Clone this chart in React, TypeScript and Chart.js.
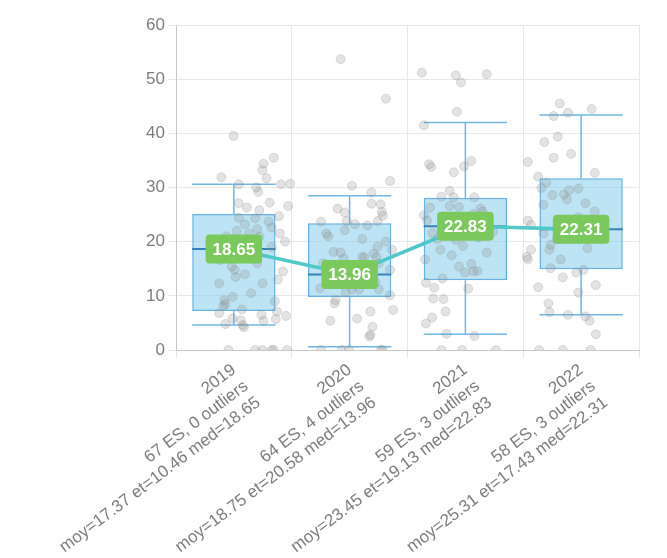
import { useEffect, useRef } from 'react';
import { Chart, registerables } from 'chart.js';

Chart.register(...registerables);

const years = ['2019', '2020', '2021', '2022'];
const esCounts = [67, 64, 59, 58];
const outlierCounts = [0, 4, 3, 3];
const means = ['17.37', '18.75', '23.45', '25.31'];
const stdDevs = ['10.46', '20.58', '19.13', '17.43'];
const medians = [18.65, 13.96, 22.83, 22.31];
const q1s = [7.2, 9.8, 12.9, 14.9];
const q3s = [25.1, 23.4, 28.1, 31.7];
const whiskerLows = [4.6, 0.6, 2.9, 6.5];
const whiskerHighs = [30.6, 28.5, 42.0, 43.4];

const yMin = 0;
const yMax = 60;
const yStep = 10;

// jitter (fraction of category width) and value of each individual point
const jitter2019 = [-0.19, 0.2, 0.1, 0.09, 0.13, -0.31, -0.14, 0.03, 0.27, 0.36, 0.05, 0.16, -0.14, -0.06, 0.34, 0.06, 0.02, -0.14, 0.25, 0.15, 0.18, -0.08, 0.04, 0.26, -0.26, -0.04, 0.06, -0.25, 0.31, -0.28, -0.32, -0.21, -0.18, -0.08, -0.17, 0.29, -0.33, 0.09, -0.2, -0.28, -0.29, -0.11, -0.33, 0.08, 0.23, 0.32, -0.2, -0.12, -0.27, 0.1, 0.22, -0.1, -0.09, -0.24, 0.02, 0.09, 0.18, 0.2, 0.33, -0.27, -0.05, 0.18, -0.16, 0.24, -0.02, 0.21, 0.04];
const values2019 = [39.5, 35.5, 34.4, 33.2, 31.7, 31.9, 30.6, 30.0, 30.6, 30.7, 29.2, 27.2, 27.1, 26.3, 26.6, 25.8, 24.3, 24.4, 24.7, 23.7, 22.6, 23.2, 22.3, 21.5, 21.0, 21.5, 20.9, 19.8, 20.0, 19.1, 16.6, 15.4, 14.8, 14.0, 13.5, 14.5, 12.3, 12.3, 9.8, 9.2, 8.1, 7.5, 6.8, 6.5, 7.1, 6.3, 5.8, 5.5, 4.8, 5.4, 5.7, 4.6, 4.2, 0, 0, 0, 0, 0, 0, 8.5, 17.9, 19.0, 22.0, 13.0, 10.5, 9.0, 16.0];

const jitter2020 = [-0.15, 0.29, 0.33, -0.04, 0.15, 0.15, 0.24, -0.18, -0.11, 0.25, 0.26, -0.34, -0.09, -0.01, 0.11, 0.21, -0.29, -0.27, -0.11, 0.21, 0.35, -0.22, -0.15, -0.12, 0.06, 0.17, 0.2, 0.22, 0.33, -0.26, -0.35, -0.1, -0.04, 0.03, 0.22, 0.33, -0.2, -0.21, 0.36, 0.14, -0.25, 0.01, 0.16, 0.14, 0.13, -0.34, -0.14, -0.07, 0.24, 0.26, 0.08, -0.17, 0.09, -0.04, 0.19, -0.1, 0.06, 0.29, -0.32];
const values2020 = [53.7, 46.4, 31.2, 30.3, 29.1, 27.0, 26.9, 26.1, 25.4, 25.5, 24.8, 23.7, 23.8, 23.2, 23.0, 23.8, 21.5, 21.0, 22.1, 19.1, 18.5, 18.1, 18.0, 16.9, 17.2, 17.8, 17.2, 16.0, 14.8, 12.4, 11.4, 10.6, 11.2, 11.2, 11.2, 10.1, 9.2, 8.6, 7.4, 7.1, 5.4, 5.8, 4.3, 2.8, 2.5, 0, 0, 0, 0, 0, 17.1, 14.5, 13.0, 15.5, 12.5, 13.2, 20.5, 20.0, 16.0];

const jitter2021 = [-0.36, -0.03, 0.02, 0.27, -0.02, -0.34, -0.29, -0.27, 0.05, 0.12, -0.05, -0.09, -0.17, -0.05, 0.15, -0.28, -0.09, 0.0, 0.21, 0.23, -0.34, -0.31, 0.14, -0.26, -0.03, 0.04, 0.33, -0.33, 0.0, 0.12, 0.06, 0.14, 0.18, -0.16, -0.32, -0.24, 0.09, -0.25, -0.15, -0.13, -0.26, -0.32, -0.12, 0.15, -0.17, 0.03, 0.36, -0.14, 0.1, -0.18, 0.27, -0.07, -0.21, 0.19];
const values2021 = [51.2, 50.7, 49.4, 50.9, 44.0, 41.5, 34.3, 33.8, 33.9, 34.9, 32.8, 29.4, 28.3, 28.2, 28.2, 26.3, 26.6, 26.4, 26.1, 25.6, 24.9, 23.9, 25.1, 21.6, 20.3, 19.2, 21.8, 16.7, 15.4, 15.9, 14.3, 14.5, 14.6, 13.2, 12.4, 11.5, 11.3, 9.5, 9.4, 7.1, 6.0, 4.9, 3.0, 2.6, 0, 0, 0, 22.0, 23.5, 18.5, 18.0, 17.5, 20.5, 20.8];

const jitter2022 = [-0.02, 0.29, -0.08, 0.06, -0.04, -0.17, 0.09, -0.08, -0.33, 0.32, -0.23, -0.15, -0.2, 0.07, 0.16, 0.02, 0.05, -0.09, 0.23, -0.18, 0.32, -0.33, -0.3, 0.34, -0.11, -0.12, -0.3, 0.25, -0.34, -0.33, -0.01, -0.11, 0.14, 0.21, 0.01, -0.23, 0.33, 0.16, -0.13, -0.12, 0.06, 0.23, 0.27, 0.33, -0.22, 0.01, 0.28, -0.18, 0.08, -0.05, 0.32, 0.16];
const values2022 = [45.5, 44.5, 43.2, 43.8, 39.4, 38.4, 36.2, 35.5, 34.7, 32.7, 32.0, 30.9, 29.9, 29.5, 29.8, 28.7, 27.8, 28.6, 27.1, 26.8, 25.6, 23.9, 23.1, 21.6, 19.4, 18.5, 18.5, 18.8, 17.2, 16.7, 16.7, 15.1, 14.3, 14.8, 13.4, 11.6, 12.0, 10.6, 8.6, 7.0, 6.5, 6.2, 5.4, 2.9, 0, 0, 0, 21.5, 23.5, 20.5, 22.1, 24.5];

const jitters = [jitter2019, jitter2020, jitter2021, jitter2022];
const valuesByYear = [values2019, values2020, values2021, values2022];

const FONT = '"Liberation Sans", Arial, Helvetica, sans-serif';
const WHISKER_COLOR = 'rgba(86,170,225,0.85)';
const MEDIAN_COLOR = 'rgba(40,120,180,0.9)';
const LABEL_BG = '#7bc95c';
const GRID = '#e8e8e8';

const boxPlugin = {
  id: 'boxWhiskers',
  afterDatasetDraw(chart: any, args: any) {
    if (args.index !== 0) return;
    const { ctx } = chart;
    const ys = chart.scales.y;
    const meta = chart.getDatasetMeta(0);
    meta.data.forEach((bar: any, i: number) => {
      const { x, width } = bar.getProps(['x', 'width'], true);
      const half = width / 2;
      const pHi = ys.getPixelForValue(whiskerHighs[i]);
      const pLo = ys.getPixelForValue(whiskerLows[i]);
      const pQ1 = ys.getPixelForValue(q1s[i]);
      const pQ3 = ys.getPixelForValue(q3s[i]);
      const pMed = ys.getPixelForValue(medians[i]);
      ctx.save();
      ctx.strokeStyle = WHISKER_COLOR;
      ctx.lineWidth = 1.5;
      ctx.beginPath();
      ctx.moveTo(x, pQ3);
      ctx.lineTo(x, pHi);
      ctx.moveTo(x, pQ1);
      ctx.lineTo(x, pLo);
      ctx.moveTo(x - half, pHi);
      ctx.lineTo(x + half, pHi);
      ctx.moveTo(x - half, pLo);
      ctx.lineTo(x + half, pLo);
      ctx.stroke();
      ctx.strokeStyle = MEDIAN_COLOR;
      ctx.lineWidth = 2;
      ctx.beginPath();
      ctx.moveTo(x - half, pMed);
      ctx.lineTo(x + half, pMed);
      ctx.stroke();
      ctx.restore();
    });
  },
};

const labelPlugin = {
  id: 'medianLabels',
  afterDatasetsDraw(chart: any) {
    const { ctx } = chart;
    const meta = chart.getDatasetMeta(2);
    ctx.save();
    ctx.font = `bold 17px ${FONT}`;
    ctx.textAlign = 'center';
    ctx.textBaseline = 'middle';
    meta.data.forEach((pt: any, i: number) => {
      const { x, y } = pt.getProps(['x', 'y'], true);
      const text = medians[i].toFixed(2);
      const w = ctx.measureText(text).width + 14;
      const h = 29;
      ctx.fillStyle = LABEL_BG;
      ctx.beginPath();
      ctx.roundRect(x - w / 2, y - h / 2, w, h, 4);
      ctx.fill();
      ctx.fillStyle = '#ffffff';
      ctx.fillText(text, x, y + 1);
    });
    ctx.restore();
  },
};

export default function App() {
  const ref = useRef<HTMLCanvasElement | null>(null);

  useEffect(() => {
    if (!ref.current) return;
    Chart.defaults.font.family = FONT;
    const labels = years.map((y, i) => [
      y,
      `${esCounts[i]} ES, ${outlierCounts[i]} outliers`,
      `moy=${means[i]} et=${stdDevs[i]} med=${medians[i].toFixed(2)}`,
    ]);
    const points: { x: number; y: number }[] = [];
    valuesByYear.forEach((vals, i) => {
      vals.forEach((v, k) => points.push({ x: i + jitters[i][k], y: v }));
    });

    const chart = new Chart(ref.current, {
      type: 'bar',
      data: {
        labels,
        datasets: [
          {
            type: 'bar',
            data: q1s.map((q, i) => [q, q3s[i]]),
            backgroundColor: 'rgba(135,206,235,0.55)',
            borderColor: 'rgba(86,170,225,0.9)',
            borderWidth: 1.5,
            borderSkipped: false,
            grouped: false,
            categoryPercentage: 0.8,
            barPercentage: 0.9,
            order: 3,
            xAxisID: 'x',
            yAxisID: 'y',
          } as any,
          {
            type: 'scatter',
            data: points,
            backgroundColor: 'rgba(140,140,140,0.24)',
            borderColor: 'rgba(140,140,140,0.26)',
            borderWidth: 1,
            pointRadius: 4.5,
            order: 2,
            xAxisID: 'xj',
            yAxisID: 'y',
          } as any,
          {
            type: 'line',
            data: medians,
            borderColor: '#4ec8c8',
            borderWidth: 3.5,
            pointRadius: 0,
            fill: false,
            tension: 0,
            order: 1,
            xAxisID: 'x',
            yAxisID: 'y',
          } as any,
        ],
      },
      options: {
        animation: false,
        responsive: true,
        maintainAspectRatio: false,
        layout: { padding: { left: 128, right: 20, top: 17, bottom: 0 } },
        plugins: {
          legend: { display: false },
          tooltip: { enabled: false },
          title: { display: false },
        },
        scales: {
          x: {
            type: 'category',
            offset: true,
            grid: { color: GRID, offset: true, drawTicks: true, tickLength: 8 },
            border: { color: '#c8c8c8' },
            ticks: {
              autoSkip: false,
              minRotation: 37,
              maxRotation: 37,
              color: '#7d7d7d',
              font: { size: 17 },
              padding: 2,
            },
            afterFit: (s: any) => {
              s.height = 208;
            },
          },
          xj: {
            type: 'linear',
            display: false,
            min: -0.5,
            max: 3.5,
          },
          y: {
            min: yMin,
            max: yMax,
            grid: { color: GRID, tickLength: 8 },
            border: { color: '#c8c8c8' },
            ticks: {
              stepSize: yStep,
              color: '#7d7d7d',
              font: { size: 17 },
              padding: 3,
            },
            afterFit: (s: any) => {
              s.width = 40;
            },
          },
        },
      },
      plugins: [boxPlugin, labelPlugin],
    } as any);
    return () => chart.destroy();
  }, []);

  return (
    <div style={{ width: 651, height: 550, position: 'relative' }}>
      <canvas ref={ref} />
    </div>
  );
}
